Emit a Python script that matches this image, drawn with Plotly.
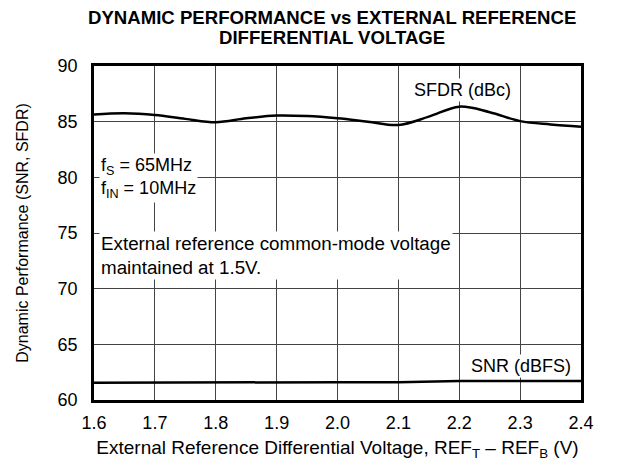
import plotly.graph_objects as go

# Data
vref = [1.60, 1.65, 1.70, 1.75, 1.80, 1.85, 1.90, 1.95, 2.00, 2.05, 2.10, 2.15, 2.20, 2.25, 2.30, 2.35, 2.40]
sfdr = [85.65, 85.75, 85.6, 85.25, 84.95, 85.3, 85.55, 85.5, 85.3, 85.0, 84.7, 85.45, 86.35, 85.85, 85.05, 84.75, 84.55]
snr_x = [1.6, 1.8, 2.0, 2.1, 2.2, 2.4]
snr = [61.55, 61.6, 61.6, 61.6, 61.7, 61.7]

x_ticks = [1.6, 1.7, 1.8, 1.9, 2.0, 2.1, 2.2, 2.3, 2.4]
y_ticks = [60, 65, 70, 75, 80, 85, 90]

FONT = "Liberation Sans, Arial, sans-serif"
FS = 18
PW, PH = 487, 334

fig = go.Figure()
fig.add_trace(go.Scatter(x=vref, y=sfdr, mode="lines", line=dict(color="black", width=2.5, shape="spline", smoothing=1.0), showlegend=False))
fig.add_trace(go.Scatter(x=snr_x, y=snr, mode="lines", line=dict(color="black", width=2.5), showlegend=False))

fig.update_layout(
    width=621, height=466,
    margin=dict(l=86, r=621 - 86 - PW, t=58, b=466 - 58 - PH),
    paper_bgcolor="white", plot_bgcolor="white",
    font=dict(family=FONT, size=FS, color="black"),
    xaxis=dict(range=[1.6, 2.4], tickvals=x_ticks, ticktext=[f"{v:.1f}" for v in x_ticks],
               showgrid=True, gridcolor="#444", gridwidth=1, zeroline=False, automargin=False,
               showline=True, linecolor="black", linewidth=2.5, mirror=True,
               ticks="outside", ticklen=5, tickcolor="white", tickfont=dict(size=FS),
               title=dict(text="External Reference Differential Voltage, REF<sub>T</sub> – REF<sub>B</sub> (V)", font=dict(size=19), standoff=9)),
    yaxis=dict(range=[60, 90], tickvals=y_ticks,
               showgrid=True, gridcolor="#444", gridwidth=1, zeroline=False, automargin=False,
               showline=True, linecolor="black", linewidth=2.5, mirror=True,
               ticks="outside", ticklen=10, tickcolor="white", tickfont=dict(size=FS),
               title=dict(text="Dynamic Performance (SNR, SFDR)", font=dict(size=16), standoff=26)),
)

# Title as two tight lines
tx = 0.5 - 6 / PW
fig.add_annotation(text="<b>DYNAMIC PERFORMANCE vs EXTERNAL REFERENCE</b>", xref="paper", yref="paper",
                   x=tx, y=1.0 + 48 / PH, xanchor="center", yanchor="middle", showarrow=False,
                   font=dict(size=18.6, family=FONT))
fig.add_annotation(text="<b>DIFFERENTIAL VOLTAGE</b>", xref="paper", yref="paper",
                   x=tx, y=1.0 + 29 / PH, xanchor="center", yanchor="middle", showarrow=False,
                   font=dict(size=18.6, family=FONT))

ann = dict(showarrow=False, bgcolor="white", xref="x", yref="y")
fig.add_annotation(x=2.206, y=87.85, text="SFDR (dBc)", xanchor="center", yanchor="middle", font=dict(size=FS, family=FONT), **ann)
fig.add_annotation(x=2.302, y=63.05, text="SNR (dBFS)", xanchor="center", yanchor="middle", font=dict(size=FS, family=FONT), **ann)
fig.add_annotation(x=1.608, y=79.9, text="f<sub>S</sub> = 65MHz<br>f<sub>IN</sub> = 10MHz", xanchor="left", yanchor="middle", align="left", font=dict(size=FS, family=FONT), **ann)
fig.add_annotation(x=1.608, y=72.95, text="External reference common-mode voltage<br>maintained at 1.5V.", xanchor="left", yanchor="middle", align="left", font=dict(size=18.8, family=FONT), **ann)

fig.write_html("out.html")
